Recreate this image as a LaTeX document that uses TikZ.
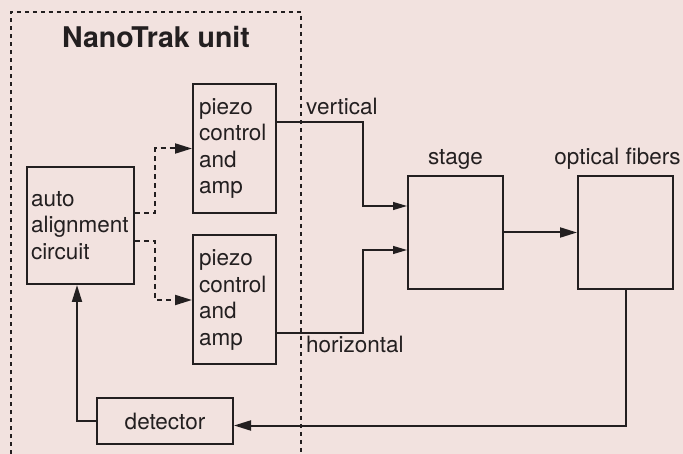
\documentclass[tikz,border=0pt]{standalone}
\usepackage{fontspec}
\setmainfont{TeX Gyre Heros}
\usetikzlibrary{arrows.meta,positioning}
\definecolor{ink}{HTML}{231F20}
\definecolor{paper}{HTML}{F2E2DF}
\begin{document}
\begin{tikzpicture}[x=1pt, y=-1pt, >={Triangle[length=17pt,width=10pt]}, font=\fontsize{22.5}{26.5}\selectfont, color=ink,
	box/.style={draw=ink, line width=2pt, rectangle, inner sep=0pt},
	txtbox/.style={box, align=left, inner xsep=5pt},
	conn/.style={draw=ink, line width=2pt, ->},
	dsh/.style={conn, dash pattern=on 5pt off 4pt},
	sig/.style={draw=ink, line width=1.2pt, -{Triangle[length=14pt,width=8pt]}},
	lbl/.style={inner sep=0pt}]
	\path[use as bounding box, fill=paper] (0,0) rectangle (683,454);
	\draw[line width=2pt, dash pattern=on 4pt off 4pt] (11,454) |- (301,12) -- (301,454);
	\node[lbl, anchor=base, font=\fontsize{28.5}{31}\selectfont\bfseries] (title) at (156,48) {NanoTrak unit};
	\node[txtbox, inner xsep=4pt, text width=99pt, minimum width=107pt, minimum height=117pt] (auto) at (80.5,225.5) {auto\\alignment\\circuit};
	\node[txtbox, inner xsep=6pt, text width=71pt, minimum width=83pt, minimum height=129pt] (piezoA) at (234.5,148.5) {piezo\\control\\and\\amp};
	\node[txtbox, inner xsep=6pt, text width=71pt, minimum width=83pt, minimum height=129pt] (piezoB) at (234.5,300) {piezo\\control\\and\\amp};
	\node[box, minimum width=136pt, minimum height=46pt] (detector) at (165,421) {detector};
	\node[box, minimum width=95pt, minimum height=113pt] (stage) at (455.5,232.5) {};
	\node[box, minimum width=95pt, minimum height=113pt] (fibers) at (625.5,232.5) {};
	\node[lbl, anchor=base] (stagelbl) at (455.5,165) {stage};
	\node[lbl, anchor=base] (fiberslbl) at (617.5,165) {optical fibers};
	\node[lbl, anchor=base west] (vertlbl) at (306,115) {vertical};
	\node[lbl, anchor=base west] (horlbl) at (306,353) {horizontal};
	\draw[dsh] ([yshift=12.5pt]auto.east) -- ++(20,0) |- (piezoA.west);
	\draw[dsh] ([yshift=-15.5pt]auto.east) -- ++(20,0) |- (piezoB.west);
	\draw[sig] ([yshift=26.5pt]piezoA.east) -- ++(86,0) |- ([yshift=26.5pt]stage.west);
	\draw[sig] ([yshift=-33pt]piezoB.east) -- ++(86,0) |- ([yshift=-17.5pt]stage.west);
	\draw[conn] (stage) -- (fibers);
	\draw[conn] (fibers.south) |- ([yshift=-4.5pt]detector.east);
	\draw[conn] (detector.west) -| ([xshift=-3.5pt]auto.south);
\end{tikzpicture}
\end{document}
